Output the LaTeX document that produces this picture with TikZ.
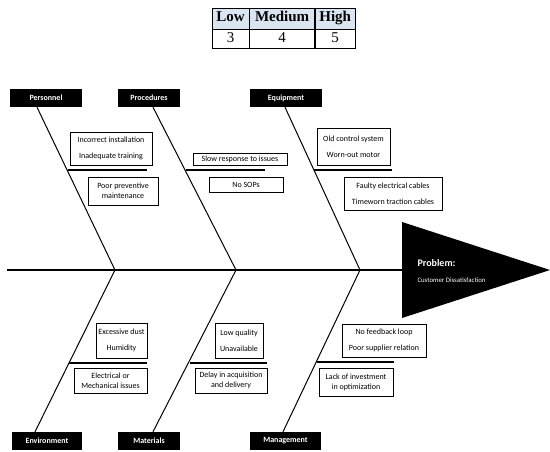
\documentclass[tikz,border=0pt]{standalone}
\usepackage{fontspec}
\setmainfont{Liberation Serif}
\setsansfont{Carlito}
\usepackage{xcolor}
\usetikzlibrary{positioning,calc}
\definecolor{headblue}{RGB}{219,229,241}

\begin{document}
\begin{tikzpicture}[x=1pt,y=-1pt,
  every node/.style={font=\sffamily\fontsize{8}{10}\selectfont},
  category/.style={fill=black,text=white,font=\sffamily\bfseries\fontsize{8}{10}\selectfont,
    minimum height=18pt,inner sep=0pt},
  cause/.style={draw,line width=0.8pt,align=center,inner sep=0pt},
  bone/.style={line width=1pt},
  rib/.style={line width=1.6pt},
  cell/.style={draw,line width=0.6pt,inner sep=0pt,text height=10pt,text depth=3pt,
    font=\rmfamily\fontsize{15}{17}\selectfont}]
  \useasboundingbox (0,0) rectangle (550,452);
  % rating table
  \node[cell,fill=headblue,minimum width=37pt,minimum height=21pt,font=\rmfamily\bfseries\fontsize{15}{17}\selectfont] (low) at (230.5,18.5) {Low};
  \node[cell,fill=headblue,minimum width=65pt,minimum height=21pt,font=\rmfamily\bfseries\fontsize{15}{17}\selectfont,right=0pt of low] (med) {Medium};
  \node[cell,fill=headblue,minimum width=40pt,minimum height=21pt,font=\rmfamily\bfseries\fontsize{15}{17}\selectfont,right=0pt of med] (high) {High};
  \node[cell,minimum width=37pt,minimum height=19pt,below=0pt of low] (v3) {3};
  \node[cell,minimum width=65pt,minimum height=19pt,below=0pt of med] (v4) {4};
  \node[cell,minimum width=40pt,minimum height=19pt,below=0pt of high] (v5) {5};
  % spine and head
  \coordinate (tail) at (7,270);
  \coordinate (j1) at (115,270);
  \coordinate (j2) at (236,270);
  \coordinate (j3) at (360,270);
  \coordinate (head) at (402,270);
  \draw[line width=1.2pt] (tail) -- (head);
  \fill (402,222) -- (550,270) -- (402,318) -- cycle;
  \node[anchor=base west,text=white,font=\sffamily\bfseries\fontsize{10}{12}\selectfont] (prob) at (414,266) {Problem:};
  \node[anchor=base west,text=white,font=\sffamily\fontsize{6.8}{8}\selectfont] (probtext) at (414,283) {Customer Dissatisfaction};
  % categories
  \node[category,minimum width=72pt] (pers) at (46,98) {Personnel};
  \node[category,minimum width=62pt] (proc) at (149,98) {Procedures};
  \node[category,minimum width=72pt] (equip) at (286,98) {Equipment};
  \node[category,minimum width=70pt] (env) at (47,441) {Environment};
  \node[category,minimum width=62pt] (mat) at (149,441) {Materials};
  \node[category,minimum width=71pt] (man) at (285.5,441) {Management};
  % bones
  \draw[bone] ($(pers.south)+(-9,0)$) -- (j1);
  \draw[bone] ($(proc.south)+(4,0)$) -- (j2);
  \draw[bone] ($(equip.south)+(-1,0)$) -- (j3);
  \draw[bone] ($(env.north)+(-12,0)$) -- (j1);
  \draw[bone] ($(mat.north)+(4,0)$) -- (j2);
  \draw[bone] ($(man.north)+(-2.5,0)$) -- (j3);
  % ribs
  \coordinate (r1a) at (68,170);  \coordinate (r1b) at (147,170);
  \coordinate (r2a) at (186,170); \coordinate (r2b) at (265,170);
  \coordinate (r3a) at (314,170); \coordinate (r3b) at (392,170);
  \coordinate (r4a) at (69,363);  \coordinate (r4b) at (147,363);
  \coordinate (r5a) at (190,363); \coordinate (r5b) at (267,363);
  \coordinate (r6a) at (317,362); \coordinate (r6b) at (394,362);
  \draw[rib] (r1a) -- (r1b);
  \draw[rib] (r2a) -- (r2b);
  \draw[rib] (r3a) -- (r3b);
  \draw[rib] (r4a) -- (r4b);
  \draw[rib] (r5a) -- (r5b);
  \draw[rib] (r6a) -- (r6b);
  % causes above the spine
  \node[cause,minimum width=82pt,minimum height=33pt] (pers1) at (111,148.5) {Incorrect installation\\[6pt]Inadequate training};
  \node[cause,minimum width=70pt,minimum height=28pt] (pers2) at (123,191) {Poor preventive\\maintenance};
  \node[cause,minimum width=94pt,minimum height=12pt] (proc1) at (240,159.5) {Slow response to issues};
  \node[cause,minimum width=74pt,minimum height=15pt] (proc2) at (246,184.5) {No SOPs};
  \node[cause,minimum width=73pt,minimum height=37pt] (equip1) at (353.5,146.5) {Old control system\\[6pt]Worn-out motor};
  \node[cause,minimum width=98pt,minimum height=33pt] (equip2) at (393,193.5) {Faulty electrical cables\\[6pt]Timeworn traction cables};
  % causes below the spine
  \node[cause,minimum width=51pt,minimum height=35pt] (env1) at (121.5,340.5) {Excessive dust\\[6pt]Humidity};
  \node[cause,minimum width=73pt,minimum height=25pt] (env2) at (110.5,380.5) {Electrical or\\Mechanical issues};
  \node[cause,minimum width=48pt,minimum height=35pt] (mat1) at (239,340.5) {Low quality\\[6pt]Unavailable};
  \node[cause,minimum width=72pt,minimum height=25pt] (mat2) at (231,380.5) {Delay in acquisition\\and delivery};
  \node[cause,minimum width=84pt,minimum height=33pt] (man1) at (384,340.5) {No feedback loop\\[6pt]Poor supplier relation};
  \node[cause,minimum width=74pt,minimum height=28pt] (man2) at (356,382) {Lack of investment\\in optimization};
\end{tikzpicture}
\end{document}
